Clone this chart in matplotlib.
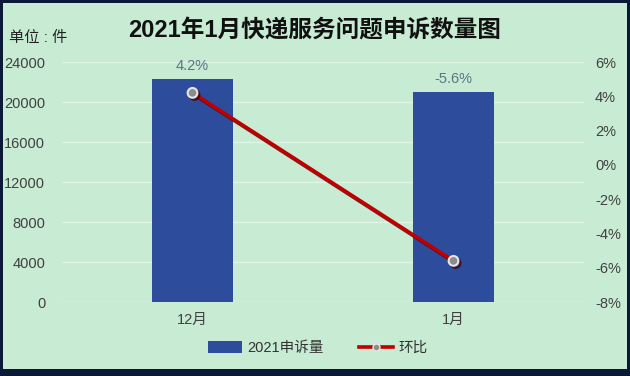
import matplotlib.pyplot as plt
import matplotlib.patheffects as pe
from matplotlib.patches import Rectangle
from matplotlib.lines import Line2D
from matplotlib.ticker import FuncFormatter

plt.rcParams['font.family'] = ['Liberation Sans', 'Noto Sans CJK SC', 'DejaVu Sans']

months = ['12月', '1月']
complaints = [22300, 21050]
mom_pct = [4.2, -5.6]
left_ticks = [0, 4000, 8000, 12000, 16000, 20000, 24000]
right_ticks = [-8, -6, -4, -2, 0, 2, 4, 6]

bg = '#c8ecd3'
fig = plt.figure(figsize=(6.3, 3.76), dpi=100)
fig.patch.set_facecolor('#0b1838')
fig.add_artist(Rectangle((3 / 630, 7 / 376), 624 / 630, 366 / 376,
                         transform=fig.transFigure, facecolor=bg,
                         edgecolor='none', zorder=0))

ax = fig.add_axes([62 / 630, 1 - 302 / 376, 522 / 630, 240 / 376])
ax.set_facecolor(bg)
ax.patch.set_alpha(0)
x = list(range(len(months)))
ax.bar(x, complaints, width=0.31, color='#2d4c9c', zorder=2)
ax.set_xlim(-0.5, 1.5)
ax.set_ylim(0, 24000)
ax.set_yticks(left_ticks)
ax.set_xticks(x)
ax.set_xticklabels(months)
ax.grid(axis='y', color='#e0f4e6', linewidth=1, zorder=0)
for s in ax.spines.values():
    s.set_visible(False)
ax.tick_params(length=0, labelsize=10.5, colors='#404040', pad=12)
ax.tick_params(axis='x', pad=8)

for xi, v, p in zip(x, complaints, mom_pct):
    ax.annotate(f'{p:.1f}%', (xi, v), xytext=(0, 4), textcoords='offset points',
                ha='center', va='bottom', fontsize=10.5, color='#5f7282')

ax2 = ax.twinx()
ax2.set_ylim(-8, 6)
ax2.set_yticks(right_ticks)
ax2.yaxis.set_major_formatter(FuncFormatter(lambda v, _: f'{v:.0f}%'))
for s in ax2.spines.values():
    s.set_visible(False)
ax2.tick_params(length=0, labelsize=10.5, colors='#404040', pad=8)
ax2.plot(x, mom_pct, color='#c00000', linewidth=2.6, marker='o', markersize=7,
         markerfacecolor='#8c8c8c', markeredgecolor='#e6e6e6', markeredgewidth=1.5,
         zorder=3,
         path_effects=[pe.SimpleLineShadow(offset=(1.5, -1.5), shadow_color='#4a0000', alpha=0.8),
                       pe.Normal()])

fig.text(0.5, 1 - 30 / 376, '2021年1月快递服务问题申诉数量图', ha='center', va='center',
         fontsize=17, fontweight='bold', color='#111111')
fig.text(9 / 630, 1 - 38 / 376, '单位 : 件', ha='left', va='center',
         fontsize=11, color='#222222')

handles = [Rectangle((0, 0), 1, 1, facecolor='#2d4c9c'),
           Line2D([], [], color='#c00000', linewidth=2.6, marker='o', markersize=5,
                  markerfacecolor='#8c8c8c', markeredgecolor='#e6e6e6')]
fig.legend(handles, ['2021申诉量', '环比'], loc='center', ncol=2,
           bbox_to_anchor=(318 / 630, 1 - 348 / 376), frameon=False,
           fontsize=10.5, handlelength=2.3, handleheight=0.8, columnspacing=2.4,
           handletextpad=0.4, labelcolor='#333333')

fig.savefig('out.png', dpi=100, facecolor=fig.get_facecolor())
